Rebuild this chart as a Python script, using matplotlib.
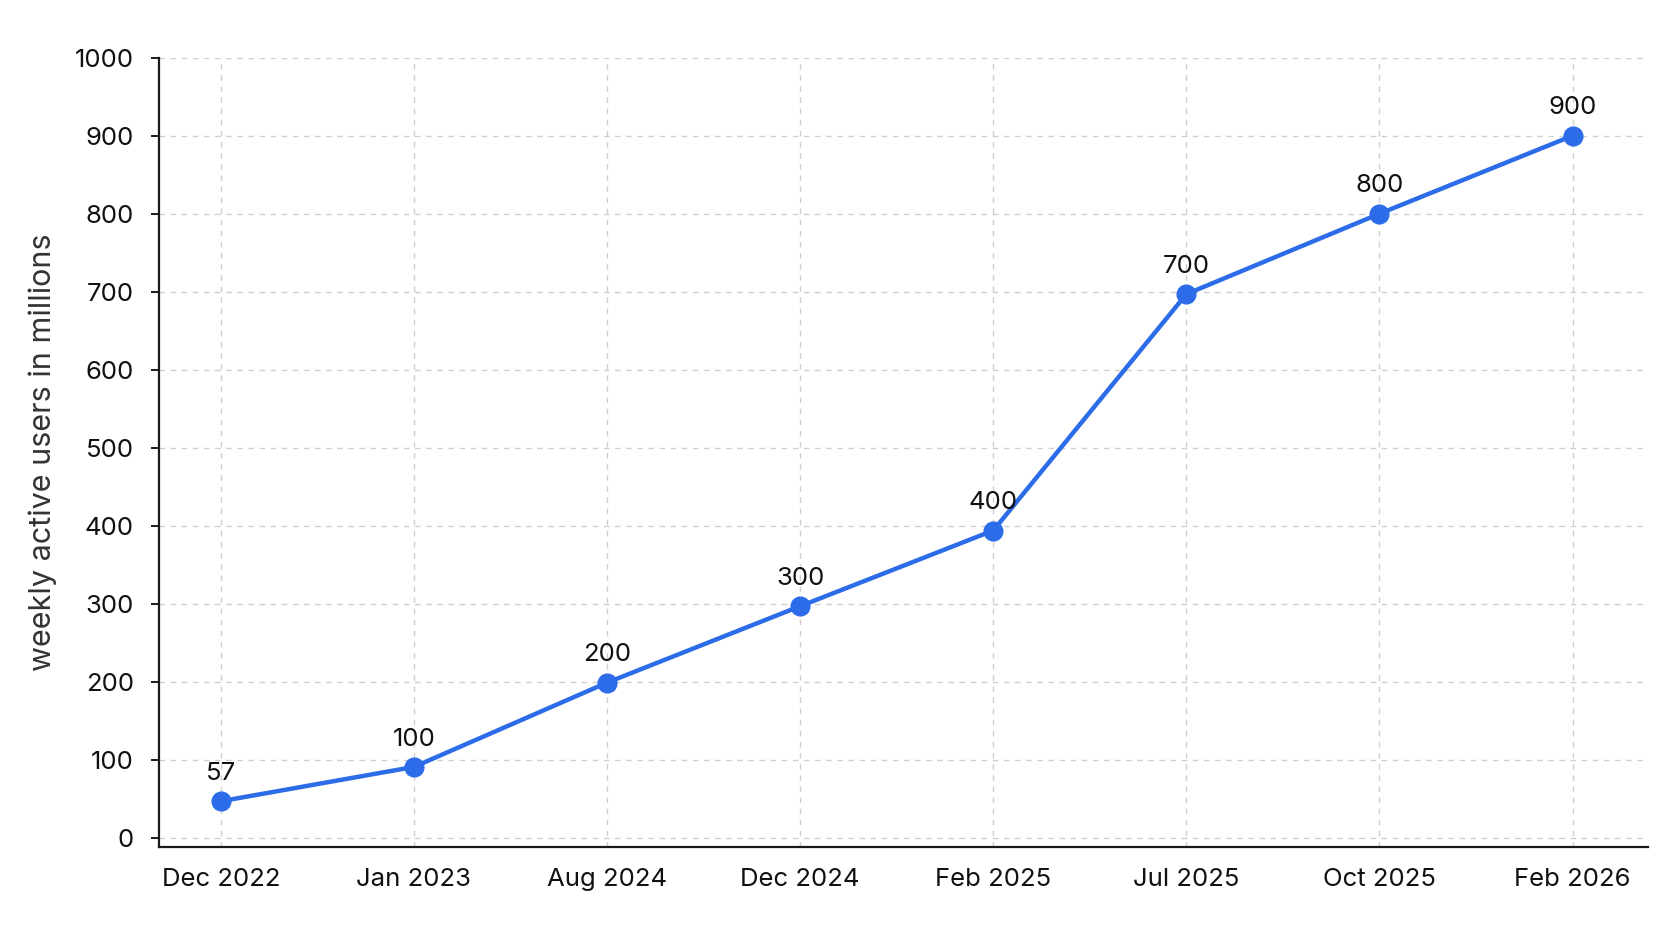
import matplotlib
matplotlib.use("Agg")
import matplotlib.pyplot as plt

plt.rcParams['font.family'] = ['Inter', 'DejaVu Sans']

# data
months = ["Dec 2022", "Jan 2023", "Aug 2024", "Dec 2024", "Feb 2025",
          "Jul 2025", "Oct 2025", "Feb 2026"]
wau = [47, 91, 199, 297, 394, 697, 800, 900]          # where the dots sit
wau_labels = ["57", "100", "200", "300", "400", "700", "800", "900"]
y_ticks = [0, 100, 200, 300, 400, 500, 600, 700, 800, 900, 1000]

blue = '#2C6CE8'

fig = plt.figure(figsize=(16.72, 9.41), dpi=100)
ax = fig.add_axes([0.0951, 0.0996, 0.8905, 0.8391])

x = list(range(len(months)))
ax.plot(x, wau, color=blue, linewidth=3.2, marker='o', markersize=13.5,
        zorder=3, solid_capstyle='round')

for xi, yi, lab in zip(x, wau, wau_labels):
    ax.annotate(lab, (xi, yi), xytext=(0, 20), textcoords='offset points',
                ha='center', va='center', fontsize=18.5, color='#111111')

ax.set_xlim(-0.32, 7.39)
ax.set_ylim(-12, 1000)
ax.set_xticks(x)
ax.set_xticklabels(months)
ax.set_yticks(y_ticks)

ax.grid(True, color='#cfcfcf', linestyle=(0, (4, 4)), linewidth=1)
ax.set_axisbelow(True)

for s in ['top', 'right']:
    ax.spines[s].set_visible(False)
for s in ['left', 'bottom']:
    ax.spines[s].set_linewidth(1.6)
    ax.spines[s].set_color('#1a1a1a')

ax.tick_params(axis='y', length=6, width=1.4, pad=12, labelsize=18.5,
               labelcolor='#111111', color='#1a1a1a')
ax.tick_params(axis='x', length=0, pad=15, labelsize=18.5,
               labelcolor='#111111')

ax.set_ylabel("weekly active users in millions", fontsize=22,
              color='#333333', labelpad=13)

fig.savefig("out.png", dpi=100, facecolor='white')
